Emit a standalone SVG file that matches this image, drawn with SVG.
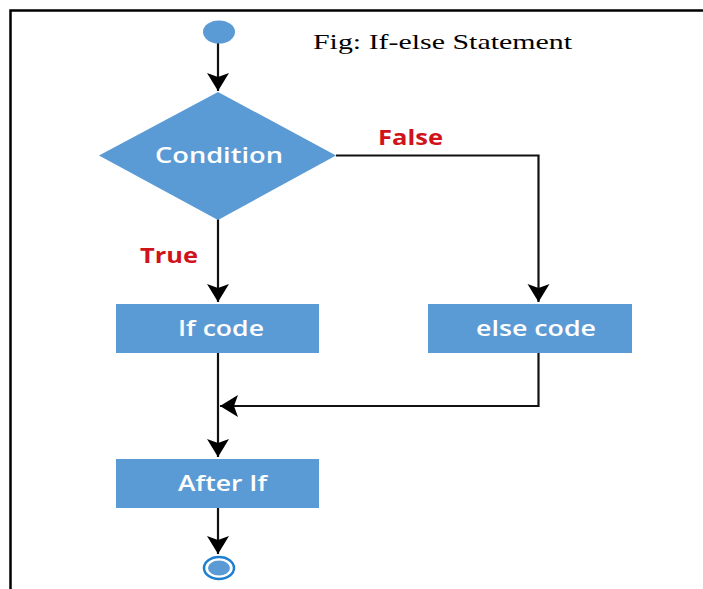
<svg xmlns="http://www.w3.org/2000/svg" width="703" height="589" viewBox="0 0 703 589">
  <defs>
    <style>
      .node { fill: #5b9bd5; }
      .label { font-family: "Open Sans", "Noto Sans", sans-serif; font-weight: 600; font-size: 22px; fill: #ffffff; text-anchor: middle; }
      .branch { font-family: "Open Sans", "Noto Sans", sans-serif; font-weight: 700; font-size: 21px; fill: #d0121b; }
      .wire { fill: none; stroke: #111111; stroke-width: 2.2; }
    </style>
    <marker id="arrow" viewBox="-20 -12 22 24" refX="0" refY="0" markerWidth="22" markerHeight="24" markerUnits="userSpaceOnUse" orient="auto">
      <path d="M0,0 L-18,-11 L-14,0 L-18,11 Z" fill="#000000"/>
    </marker>
  </defs>

  <rect width="703" height="589" fill="#ffffff"/>
  <!-- frame: top and left edges -->
  <path d="M10.5,589 V10.5 H703" fill="none" stroke="#000000" stroke-width="2.5"/>

  <text x="313" y="49" font-family="Liberation Serif, serif" font-size="21" fill="#000000" textLength="259" lengthAdjust="spacingAndGlyphs">Fig: If-else Statement</text>

  <g id="connectors">
    <path class="wire" d="M218,43 V91" marker-end="url(#arrow)"/>
    <path class="wire" d="M336,155.5 H538.5 V302" marker-end="url(#arrow)"/>
    <path class="wire" d="M218,219 V302" marker-end="url(#arrow)"/>
    <path class="wire" d="M538.5,353 V406 H220" marker-end="url(#arrow)"/>
    <path class="wire" d="M218,353 V457" marker-end="url(#arrow)"/>
    <path class="wire" d="M218,508 V554" marker-end="url(#arrow)"/>
    <text class="branch" x="378" y="145" textLength="65" lengthAdjust="spacingAndGlyphs">False</text>
    <text class="branch" x="140" y="263" textLength="58" lengthAdjust="spacingAndGlyphs">True</text>
  </g>

  <g id="start">
    <ellipse class="node" cx="219" cy="32" rx="16" ry="11.5"/>
  </g>

  <g id="condition">
    <polygon class="node" points="218,92 336,155.5 218,220 99,155.5"/>
    <text class="label" x="219" y="163" textLength="128" lengthAdjust="spacingAndGlyphs">Condition</text>
  </g>

  <g id="if-code">
    <rect class="node" x="116" y="304" width="203" height="49"/>
    <text class="label" x="221" y="336" textLength="86" lengthAdjust="spacingAndGlyphs">If code</text>
  </g>

  <g id="else-code">
    <rect class="node" x="428" y="304" width="204" height="49"/>
    <text class="label" x="536" y="336" textLength="120" lengthAdjust="spacingAndGlyphs">else code</text>
  </g>

  <g id="after-if">
    <rect class="node" x="116" y="459" width="203" height="49"/>
    <text class="label" x="222.5" y="491" textLength="89" lengthAdjust="spacingAndGlyphs">After If</text>
  </g>

  <g id="end">
    <ellipse cx="219" cy="568" rx="15" ry="11" fill="#ffffff" stroke="#1f7fcf" stroke-width="2.5"/>
    <ellipse class="node" cx="219" cy="568" rx="11" ry="7.5"/>
  </g>
</svg>
